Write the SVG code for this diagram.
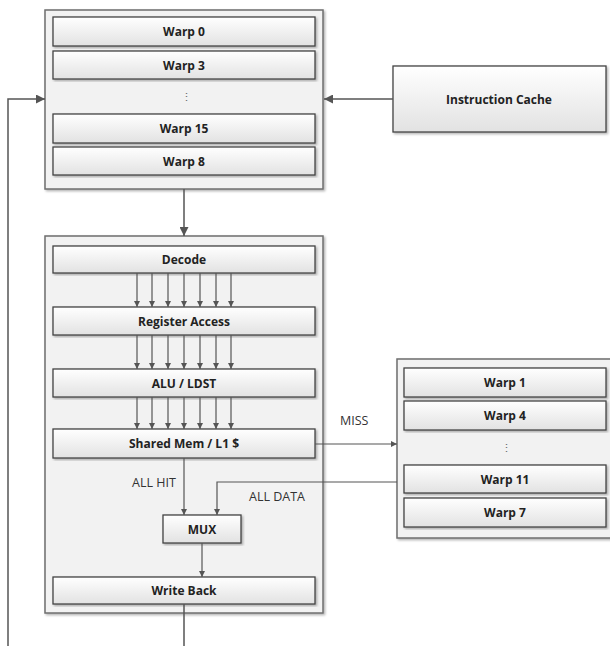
<svg xmlns="http://www.w3.org/2000/svg" width="610" height="646" viewBox="0 0 610 646">
  <defs>
    <linearGradient id="boxFill" x1="0" y1="0" x2="0" y2="1">
      <stop offset="0" stop-color="#ffffff"/>
      <stop offset="1" stop-color="#e2e2e2"/>
    </linearGradient>
    <filter id="shadow" x="-5%" y="-5%" width="110%" height="115%">
      <feDropShadow dx="1.5" dy="1.5" stdDeviation="1" flood-color="#000" flood-opacity="0.3"/>
    </filter>
    <marker id="arrow" viewBox="0 0 10 10" refX="10" refY="5" markerWidth="6" markerHeight="6" orient="auto" markerUnits="userSpaceOnUse">
      <path d="M0,0 L10,5 L0,10 z" fill="#555"/>
    </marker>
    <marker id="arrowBig" viewBox="0 0 10 10" refX="10" refY="5" markerWidth="9" markerHeight="9" orient="auto" markerUnits="userSpaceOnUse">
      <path d="M0,0 L10,5 L0,10 z" fill="#555"/>
    </marker>
  </defs>
  <style>
    .container { fill: #f2f2f2; stroke: #6e6e6e; stroke-width: 1.5; filter: url(#shadow); }
    .box { fill: url(#boxFill); stroke: #444; stroke-width: 1.3; filter: url(#shadow); }
    .lbl { font-family: "Open Sans", "Liberation Sans", sans-serif; font-size: 12px; font-weight: bold; fill: #222; text-anchor: middle; dominant-baseline: central; }
    .note { font-family: "Open Sans", "Liberation Sans", sans-serif; font-size: 12.5px; fill: #333; dominant-baseline: central; }
    .dots { font-family: "Liberation Sans", sans-serif; font-size: 11px; fill: #666; text-anchor: middle; dominant-baseline: central; }
    .wire { fill: none; stroke: #555; stroke-width: 1.2; }
    .wireBig { fill: none; stroke: #555; stroke-width: 1.5; }
    .lane { stroke: #555; stroke-width: 1.2; marker-end: url(#arrow); }
  </style>

  <!-- warp scheduler pool -->
  <g id="warp-pool">
    <rect class="container" x="45" y="10" width="278" height="179"/>
    <g id="warp0"><rect class="box" x="53" y="17" width="262" height="29"/><text class="lbl" x="184" y="31.5">Warp 0</text></g>
    <g id="warp3"><rect class="box" x="53" y="51" width="262" height="28"/><text class="lbl" x="184" y="65">Warp 3</text></g>
    <text class="dots" x="186" y="97">⋮</text>
    <g id="warp15"><rect class="box" x="53" y="114" width="262" height="29"/><text class="lbl" x="184" y="128.5">Warp 15</text></g>
    <g id="warp8"><rect class="box" x="53" y="147" width="262" height="28"/><text class="lbl" x="184" y="161">Warp 8</text></g>
  </g>

  <!-- instruction cache -->
  <g id="icache">
    <rect class="box" x="393" y="66" width="213" height="66"/>
    <text class="lbl" x="499" y="99">Instruction Cache</text>
  </g>

  <!-- pipeline -->
  <g id="pipeline">
    <rect class="container" x="45" y="236" width="278" height="377"/>
  </g>
  <g id="decode"><rect class="box" x="53" y="246" width="262" height="27"/><text class="lbl" x="184" y="259.5">Decode</text></g>
  <g id="register-access"><rect class="box" x="53" y="307" width="262" height="28"/><text class="lbl" x="184" y="321">Register Access</text></g>
  <g id="alu-ldst"><rect class="box" x="53" y="369" width="262" height="28"/><text class="lbl" x="184" y="383">ALU / LDST</text></g>
  <g id="shared-mem"><rect class="box" x="53" y="429" width="262" height="29"/><text class="lbl" x="184" y="443.5">Shared Mem / L1 $</text></g>
  <g id="mux"><rect class="box" x="163" y="515" width="78" height="28"/><text class="lbl" x="202" y="529">MUX</text></g>
  <g id="write-back"><rect class="box" x="53" y="577" width="262" height="27"/><text class="lbl" x="184" y="590.5">Write Back</text></g>

  <!-- pending (missed) warps -->
  <g id="miss-pool">
    <rect class="container" x="397" y="359" width="218" height="179"/>
    <g id="warp1"><rect class="box" x="404" y="368" width="202" height="29"/><text class="lbl" x="505" y="382.5">Warp 1</text></g>
    <g id="warp4"><rect class="box" x="404" y="401" width="202" height="29"/><text class="lbl" x="505" y="415.5">Warp 4</text></g>
    <text class="dots" x="506" y="448">⋮</text>
    <g id="warp11"><rect class="box" x="404" y="465" width="202" height="28"/><text class="lbl" x="505" y="479">Warp 11</text></g>
    <g id="warp7"><rect class="box" x="404" y="498" width="202" height="29"/><text class="lbl" x="505" y="512.5">Warp 7</text></g>
  </g>

  <!-- connectors -->
  <g id="connectors">
    <path class="wireBig" d="M393,99 H324" marker-end="url(#arrowBig)"/>
    <path class="wireBig" d="M184,189 V236" marker-end="url(#arrowBig)"/>
    <path class="wireBig" d="M184,604 V646"/>
    <path class="wireBig" d="M8,646 V99 H45" marker-end="url(#arrowBig)"/>

    <!-- seven parallel lanes between stages -->
    <g id="lanes-decode-reg">
      <line class="lane" x1="137" y1="273" x2="137" y2="307"/>
      <line class="lane" x1="152" y1="273" x2="152" y2="307"/>
      <line class="lane" x1="168" y1="273" x2="168" y2="307"/>
      <line class="lane" x1="184" y1="273" x2="184" y2="307"/>
      <line class="lane" x1="200" y1="273" x2="200" y2="307"/>
      <line class="lane" x1="216" y1="273" x2="216" y2="307"/>
      <line class="lane" x1="231" y1="273" x2="231" y2="307"/>
    </g>
    <g id="lanes-reg-alu">
      <line class="lane" x1="137" y1="335" x2="137" y2="369"/>
      <line class="lane" x1="152" y1="335" x2="152" y2="369"/>
      <line class="lane" x1="168" y1="335" x2="168" y2="369"/>
      <line class="lane" x1="184" y1="335" x2="184" y2="369"/>
      <line class="lane" x1="200" y1="335" x2="200" y2="369"/>
      <line class="lane" x1="216" y1="335" x2="216" y2="369"/>
      <line class="lane" x1="231" y1="335" x2="231" y2="369"/>
    </g>
    <g id="lanes-alu-mem">
      <line class="lane" x1="137" y1="397" x2="137" y2="429"/>
      <line class="lane" x1="152" y1="397" x2="152" y2="429"/>
      <line class="lane" x1="168" y1="397" x2="168" y2="429"/>
      <line class="lane" x1="184" y1="397" x2="184" y2="429"/>
      <line class="lane" x1="200" y1="397" x2="200" y2="429"/>
      <line class="lane" x1="216" y1="397" x2="216" y2="429"/>
      <line class="lane" x1="231" y1="397" x2="231" y2="429"/>
    </g>

    <path class="wire" d="M315,444 H397" marker-end="url(#arrow)"/>
    <path class="wire" d="M184,458 V515" marker-end="url(#arrow)"/>
    <path class="wire" d="M397,482 H217 V515" marker-end="url(#arrow)"/>
    <path class="wire" d="M202,543 V577" marker-end="url(#arrow)"/>

    <text class="note" x="340" y="420">MISS</text>
    <text class="note" x="132" y="482">ALL HIT</text>
    <text class="note" x="249" y="496">ALL DATA</text>
  </g>
</svg>
